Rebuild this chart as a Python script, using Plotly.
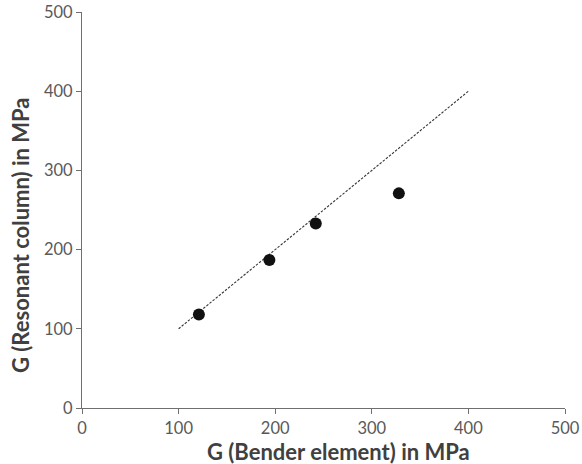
import plotly.graph_objects as go

# Shear modulus measured by two methods (MPa)
g_bender = [121, 194, 242, 328]
g_resonant = [118, 187, 233, 271]

# 1:1 reference line
line_x = [100, 400]
line_y = [100, 400]

axis_ticks = [0, 100, 200, 300, 400, 500]

x_title = "G (Bender element) in MPa"
y_title = "G (Resonant column) in MPa"

FONT = "Lato, Open Sans, sans-serif"

fig = go.Figure()
fig.add_trace(go.Scatter(
    x=line_x, y=line_y, mode="lines",
    line=dict(color="#333333", width=1.1, dash="2.5px,1.5px"),
    showlegend=False, hoverinfo="skip",
))
fig.add_trace(go.Scatter(
    x=g_bender, y=g_resonant, mode="markers",
    marker=dict(color="#111111", size=12),
    showlegend=False,
))

axis_common = dict(
    range=[0, 500], tickvals=axis_ticks, showgrid=False, zeroline=False,
    showline=True, linecolor="#6f6f6f", linewidth=1.2,
    ticks="outside", ticklen=5, tickcolor="#6f6f6f", tickwidth=1.2,
    tickfont=dict(family=FONT, size=16.5, color="#595959"),
    automargin=False,
)
fig.update_xaxes(**axis_common)
fig.update_yaxes(**axis_common)

title_font = dict(family=FONT, size=22, color="#404040")
fig.add_annotation(
    text=f"<b>{x_title}</b>", xref="paper", yref="paper",
    x=0.5, y=0, xanchor="center", yanchor="middle",
    xshift=15, yshift=-43, showarrow=False, font=title_font,
)
fig.add_annotation(
    text=f"<b>{y_title}</b>", xref="paper", yref="paper",
    x=0, y=0.5, xanchor="center", yanchor="middle", textangle=-90,
    xshift=-62, yshift=-25, showarrow=False, font=title_font,
)

fig.update_layout(
    width=582, height=464,
    margin=dict(l=82, r=17, t=12, b=56),
    plot_bgcolor="white", paper_bgcolor="white",
)

fig.write_html("out.html")
